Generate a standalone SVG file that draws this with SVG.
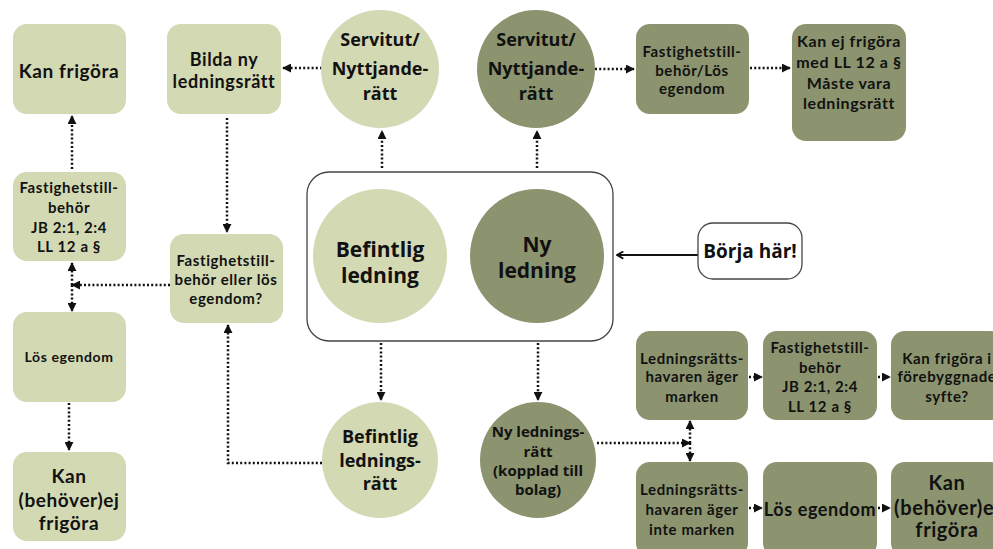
<svg xmlns="http://www.w3.org/2000/svg" width="993" height="549" viewBox="0 0 993 549">
<defs>
<style>
.lt{fill:#d3d9b3}
.dk{fill:#8b946f}
.bx{font-family:"Lato","Liberation Sans",sans-serif;font-weight:700;fill:#111;text-anchor:middle;letter-spacing:0.6px}
.ci{font-family:"Open Sans","Liberation Sans",sans-serif;font-weight:700;fill:#111;text-anchor:middle}
.dot{fill:none;stroke:#111;stroke-width:2.5;stroke-dasharray:2 2.2}
.s15{font-size:15px}
.s19{font-size:19px}
</style>
<marker id="ah" viewBox="0 0 10 10" refX="9" refY="5" markerWidth="9" markerHeight="9" markerUnits="userSpaceOnUse" orient="auto">
<path d="M0,0 L10,5 L0,10 z" fill="#111"/>
</marker>
<marker id="oa" viewBox="0 0 10 10" refX="9" refY="5" markerWidth="9" markerHeight="9" markerUnits="userSpaceOnUse" orient="auto">
<path d="M2,1 L9,5 L2,9" fill="none" stroke="#111" stroke-width="2"/>
</marker>
</defs>
<rect width="993" height="549" fill="#fff"/>

<g id="connectors">
<path class="dot" d="M322,68 H283" marker-end="url(#ah)"/>
<path class="dot" d="M595,69 H634" marker-end="url(#ah)"/>
<path class="dot" d="M750,68 H790" marker-end="url(#ah)"/>
<path class="dot" d="M382,168 V131" marker-end="url(#ah)"/>
<path class="dot" d="M537,168 V131" marker-end="url(#ah)"/>
<path class="dot" d="M227,118 V232" marker-end="url(#ah)"/>
<path class="dot" d="M170,285 H72" marker-end="url(#ah)"/>
<path class="dot" d="M72,285 V263" marker-end="url(#ah)"/>
<path class="dot" d="M72,285 V311" marker-end="url(#ah)"/>
<path class="dot" d="M72,169 V116" marker-end="url(#ah)"/>
<path class="dot" d="M69,403 V450" marker-end="url(#ah)"/>
<path class="dot" d="M381,343 V400" marker-end="url(#ah)"/>
<path class="dot" d="M538,343 V400" marker-end="url(#ah)"/>
<path class="dot" d="M322,463 H228 V325" marker-end="url(#ah)"/>
<path class="dot" d="M597,443 H690" marker-end="url(#ah)"/>
<path class="dot" d="M690,443 V421" marker-end="url(#ah)"/>
<path class="dot" d="M690,443 V461" marker-end="url(#ah)"/>
<path class="dot" d="M749,377 H762" marker-end="url(#ah)"/>
<path class="dot" d="M878,377 H890" marker-end="url(#ah)"/>
<path class="dot" d="M749,508 H762" marker-end="url(#ah)"/>
<path class="dot" d="M878,508 H890" marker-end="url(#ah)"/>
<path d="M698,255 H617" fill="none" stroke="#111" stroke-width="2" marker-end="url(#oa)"/>
</g>

<g id="start">
<rect x="307" y="172" width="306" height="169" rx="22" fill="#fff" stroke="#444" stroke-width="1.3"/>
</g>
<g id="befintlig-ledning">
<circle class="lt" cx="380" cy="256" r="67"/>
<text class="ci" font-size="21" font-weight="800"><tspan x="380" y="257">Befintlig</tspan><tspan x="380" y="283">ledning</tspan></text>
</g>
<g id="ny-ledning">
<circle class="dk" cx="537" cy="256" r="67"/>
<text class="ci" font-size="21" font-weight="800"><tspan x="537" y="252">Ny</tspan><tspan x="537" y="278">ledning</tspan></text>
</g>

<g id="borja">
<rect x="698" y="223" width="104" height="56" rx="15" fill="#fff" stroke="#444" stroke-width="1.3"/>
<text class="ci" font-size="19"><tspan x="750" y="258">Börja här!</tspan></text>
</g>

<g id="servitut-befintlig">
<circle class="lt" cx="380" cy="69" r="59"/>
<text class="ci" font-size="18"><tspan x="380" y="46">Servitut/</tspan><tspan x="380" y="75">Nyttjande-</tspan><tspan x="380" y="100">rätt</tspan></text>
</g>
<g id="servitut-ny">
<circle class="dk" cx="536" cy="69" r="59"/>
<text class="ci" font-size="18"><tspan x="536" y="46">Servitut/</tspan><tspan x="536" y="75">Nyttjande-</tspan><tspan x="536" y="100">rätt</tspan></text>
</g>

<g id="bilda">
<rect class="lt" x="167" y="24" width="114" height="90" rx="14"/>
<text class="bx" font-size="18"><tspan x="224" y="66">Bilda ny</tspan><tspan x="224" y="88">ledningsrätt</tspan></text>
</g>
<g id="kan-frigora">
<rect class="lt" x="13" y="24" width="113" height="90" rx="14"/>
<text class="bx s19"><tspan x="69" y="78">Kan frigöra</tspan></text>
</g>
<g id="fast-jb-left">
<rect class="lt" x="13" y="172" width="113" height="89" rx="14"/>
<text class="bx s15"><tspan x="69" y="193">Fastighetstill-</tspan><tspan x="69" y="213">behör</tspan><tspan x="69" y="233">JB 2:1, 2:4</tspan><tspan x="69" y="252">LL 12 a §</tspan></text>
</g>
<g id="fast-eller">
<rect class="lt" x="170" y="234" width="113" height="89" rx="14"/>
<text class="bx s15"><tspan x="226" y="266">Fastighetstill-</tspan><tspan x="226" y="285">behör eller lös</tspan><tspan x="226" y="304">egendom?</tspan></text>
</g>
<g id="los-left">
<rect class="lt" x="13" y="312" width="113" height="90" rx="14"/>
<text class="bx" font-size="14"><tspan x="69" y="362">Lös egendom</tspan></text>
</g>
<g id="kan-ej-left">
<rect class="lt" x="13" y="452" width="113" height="89" rx="14"/>
<text class="bx s19"><tspan x="69" y="483">Kan</tspan><tspan x="69" y="507">(behöver)ej</tspan><tspan x="69" y="530">frigöra</tspan></text>
</g>

<g id="befintlig-ledningsratt">
<circle class="lt" cx="380" cy="460" r="58"/>
<text class="ci" font-size="18"><tspan x="380" y="443">Befintlig</tspan><tspan x="380" y="467">lednings-</tspan><tspan x="380" y="490">rätt</tspan></text>
</g>
<g id="ny-ledningsratt">
<circle class="dk" cx="538" cy="460" r="58"/>
<text class="ci" font-size="15" font-weight="600"><tspan x="538" y="437">Ny lednings-</tspan><tspan x="538" y="457">rätt</tspan><tspan x="538" y="476">(kopplad till</tspan><tspan x="538" y="495">bolag)</tspan></text>
</g>

<g id="fast-los-top">
<rect class="dk" x="636" y="24" width="113" height="90" rx="14"/>
<text class="bx s15"><tspan x="692" y="57">Fastighetstill-</tspan><tspan x="692" y="76">behör/Lös</tspan><tspan x="692" y="94">egendom</tspan></text>
</g>
<g id="kan-ej-ll">
<rect class="dk" x="792" y="24" width="114" height="117" rx="14"/>
<text class="bx" font-size="16"><tspan x="849" y="47">Kan ej frigöra</tspan><tspan x="849" y="68">med LL 12 a §</tspan><tspan x="849" y="89">Måste vara</tspan><tspan x="849" y="109">ledningsrätt</tspan></text>
</g>

<g id="ager-marken">
<rect class="dk" x="636" y="331" width="112" height="89" rx="14"/>
<text class="bx s15"><tspan x="692" y="364">Ledningsrätts-</tspan><tspan x="692" y="382">havaren äger</tspan><tspan x="692" y="402">marken</tspan></text>
</g>
<g id="fast-jb-right">
<rect class="dk" x="763" y="331" width="114" height="89" rx="14"/>
<text class="bx s15"><tspan x="820" y="353">Fastighetstill-</tspan><tspan x="820" y="373">behör</tspan><tspan x="820" y="392">JB 2:1, 2:4</tspan><tspan x="820" y="412">LL 12 a §</tspan></text>
</g>
<g id="forebyggande">
<rect class="dk" x="891" y="331" width="113" height="89" rx="14"/>
<text class="bx s15"><tspan x="947" y="364">Kan frigöra i</tspan><tspan x="947" y="382">förebyggnade</tspan><tspan x="947" y="402">syfte?</tspan></text>
</g>
<g id="ager-inte">
<rect class="dk" x="636" y="462" width="112" height="95" rx="14"/>
<text class="bx s15"><tspan x="692" y="495">Ledningsrätts-</tspan><tspan x="692" y="515">havaren äger</tspan><tspan x="692" y="535">inte marken</tspan></text>
</g>
<g id="los-right">
<rect class="dk" x="763" y="462" width="114" height="95" rx="14"/>
<text class="bx" font-size="18" letter-spacing="0.2"><tspan x="820" y="516">Lös egendom</tspan></text>
</g>
<g id="kan-ej-right">
<rect class="dk" x="891" y="462" width="113" height="95" rx="14"/>
<text class="bx" font-size="20"><tspan x="947" y="490">Kan</tspan><tspan x="947" y="515">(behöver)ej</tspan><tspan x="947" y="537">frigöra</tspan></text>
</g>
</svg>
